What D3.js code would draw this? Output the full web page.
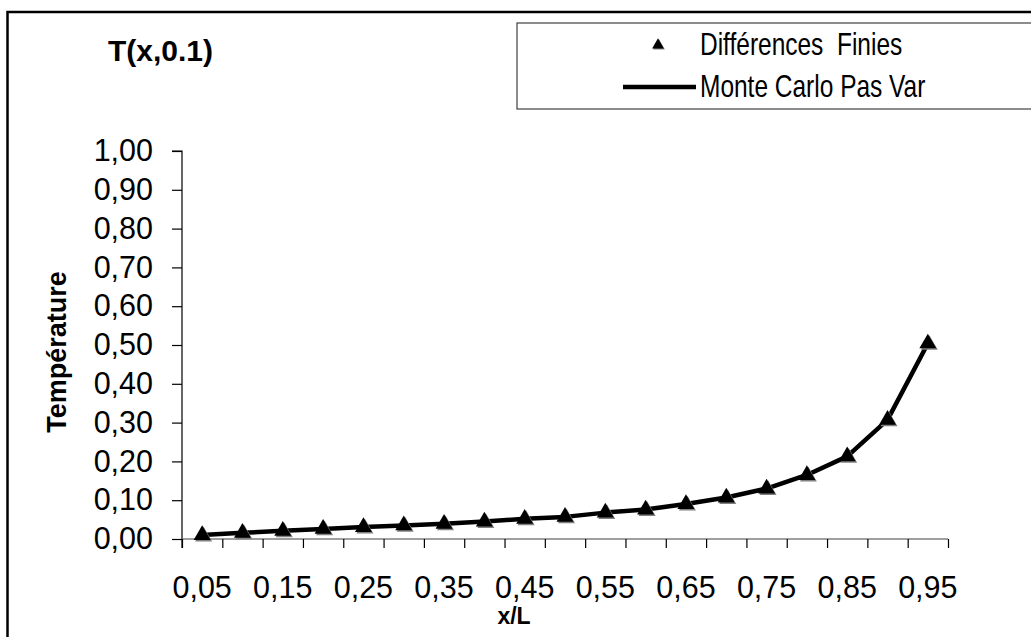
<!DOCTYPE html>
<html>
<head>
<meta charset="utf-8">
<script src="https://cdn.jsdelivr.net/npm/d3@7"></script>
<style>
  html, body { margin: 0; padding: 0; background: #fff; }
  svg { display: block; font-family: "Liberation Sans", Arial, sans-serif; }
  text { white-space: pre; }
</style>
</head>
<body>
<svg id="chart" width="1031" height="637"></svg>
<script>
// Position x/L along the bar
const xValues = [0.05, 0.10, 0.15, 0.20, 0.25, 0.30, 0.35, 0.40, 0.45, 0.50,
                 0.55, 0.60, 0.65, 0.70, 0.75, 0.80, 0.85, 0.90, 0.95];
// Finite-difference temperature at t = 0.1
const diffFinies = [0.010, 0.016, 0.021, 0.026, 0.031, 0.035, 0.039, 0.045, 0.052, 0.057,
                    0.068, 0.076, 0.090, 0.107, 0.130, 0.165, 0.213, 0.307, 0.504];
// Monte Carlo (variable step) temperature at t = 0.1
const monteCarlo = [0.010, 0.016, 0.021, 0.026, 0.031, 0.035, 0.039, 0.045, 0.052, 0.057,
                    0.068, 0.076, 0.090, 0.107, 0.130, 0.165, 0.213, 0.307, 0.504];
const yTicks = [0, 0.1, 0.2, 0.3, 0.4, 0.5, 0.6, 0.7, 0.8, 0.9, 1.0];

const svg = d3.select("#chart");
const plot = { left: 182, right: 948, top: 151, bottom: 539 };

const fmtComma = (v, digits) => v.toFixed(digits).replace(".", ",");

// Category scale (one band per sample) and an edge scale for tick marks between bands
const x = d3.scaleBand().domain(xValues).range([plot.left, plot.right]).padding(0);
const xEdge = d3.scaleLinear().domain([0, xValues.length]).range([plot.left, plot.right]);
const y = d3.scaleLinear().domain([0, 1]).range([plot.bottom, plot.top]);
const cx = v => x(v) + x.bandwidth() / 2;

// Outer frame
svg.append("rect")
  .attr("x", 7.5).attr("y", 12).attr("width", 1100).attr("height", 700)
  .attr("fill", "none").attr("stroke", "#000").attr("stroke-width", 2.5);

// Y axis
const yAxis = d3.axisLeft(y).tickValues(yTicks).tickSize(10).tickPadding(19)
  .tickFormat(d => fmtComma(d, 2));
const gy = svg.append("g").attr("transform", `translate(${plot.left},0)`).call(yAxis);
gy.select(".domain").attr("stroke", "#000").attr("stroke-width", 1.2)
  .attr("d", `M-10,${plot.top}H0V${plot.bottom + 9}`);
gy.selectAll(".tick line").attr("stroke", "#000").attr("stroke-width", 1.2);
gy.selectAll(".tick text").attr("font-size", 30.5).attr("fill", "#000")
  .attr("font-family", "Liberation Sans, Arial, sans-serif");

// X axis: ticks between categories
const xAxis = d3.axisBottom(xEdge).tickValues(d3.range(xValues.length + 1))
  .tickSize(9).tickFormat("");
const gx = svg.append("g").attr("transform", `translate(0,${plot.bottom})`).call(xAxis);
gx.select(".domain").attr("stroke", "#7f7f7f").attr("stroke-width", 1.5)
  .attr("d", `M${plot.left},0H${plot.right}`);
gx.selectAll(".tick line").attr("stroke", "#000").attr("stroke-width", 1.2);

// Category labels, every other one
svg.append("g").selectAll("text")
  .data(xValues.filter((d, i) => i % 2 === 0))
  .join("text")
  .attr("x", d => cx(d)).attr("y", 598)
  .attr("text-anchor", "middle").attr("font-size", 30.5).attr("fill", "#000")
  .text(d => fmtComma(d, 2));

// Axis titles
svg.append("text").attr("x", 514).attr("y", 624).attr("text-anchor", "middle")
  .attr("font-size", 23).attr("font-weight", "bold").text("x/L");
svg.append("text").attr("transform", "translate(66,352) rotate(-90)")
  .attr("text-anchor", "middle").attr("font-size", 27).attr("font-weight", "bold")
  .text("Température");

// Chart title
svg.append("text").attr("x", 108).attr("y", 61)
  .attr("font-size", 30).attr("font-weight", "bold").text("T(x,0.1)");

// Monte Carlo line
const line = d3.line().x((d, i) => cx(xValues[i])).y(d => y(d));
svg.append("path").datum(monteCarlo)
  .attr("d", line).attr("fill", "none").attr("stroke", "#000")
  .attr("stroke-width", 4.5).attr("stroke-linejoin", "round");

// Finite-difference markers: triangles with a grey drop edge
const tri = d3.symbol().type(d3.symbolTriangle).size(125);
const markers = svg.append("g");
markers.selectAll("path.shadow").data(diffFinies).join("path")
  .attr("class", "shadow")
  .attr("transform", (d, i) => `translate(${cx(xValues[i]) + 1.5},${y(d) + 1.5})`)
  .attr("d", tri).attr("fill", "#808080");
markers.selectAll("path.mark").data(diffFinies).join("path")
  .attr("class", "mark")
  .attr("transform", (d, i) => `translate(${cx(xValues[i])},${y(d)})`)
  .attr("d", tri).attr("fill", "#000");

// Legend
const lg = svg.append("g");
lg.append("rect").attr("x", 517).attr("y", 23).attr("width", 600).attr("height", 86)
  .attr("fill", "#fff").attr("stroke", "#404040").attr("stroke-width", 1.2);
const legTri = d3.symbol().type(d3.symbolTriangle).size(60);
lg.append("path").attr("transform", "translate(659,46)").attr("d", legTri).attr("fill", "#808080");
lg.append("path").attr("transform", "translate(658,45)").attr("d", legTri).attr("fill", "#000");
lg.append("text").attr("transform", "translate(700,55) scale(0.79,1)")
  .attr("font-size", 31).text("Différences  Finies");
lg.append("line").attr("x1", 623).attr("x2", 696).attr("y1", 87).attr("y2", 87)
  .attr("stroke", "#000").attr("stroke-width", 4.5);
lg.append("text").attr("transform", "translate(700,97) scale(0.79,1)")
  .attr("font-size", 31).text("Monte Carlo Pas Var");
</script>
</body>
</html>
